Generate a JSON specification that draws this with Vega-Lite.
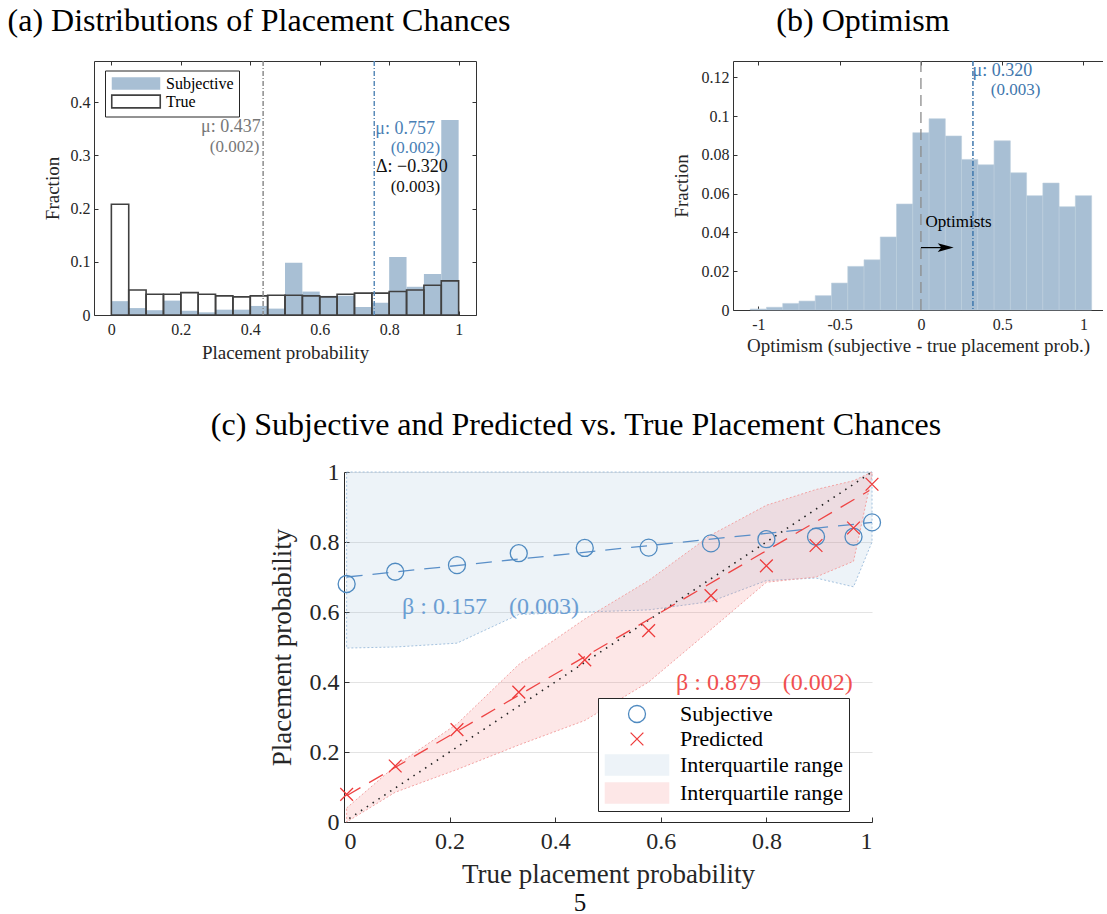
{
"$schema": "https://vega.github.io/schema/vega-lite/v6.json",
"padding": {"left": 7, "top": 5, "right": 0, "bottom": 0},
"background": "white",
"config": {
  "font": "Liberation Serif",
  "view": {"stroke": null},
  "axis": {"grid": false, "domainColor": "#333333", "tickColor": "#333333", "labelColor": "#262626", "titleColor": "#262626", "titleFontWeight": "normal", "labelFont": "Liberation Serif", "titleFont": "Liberation Serif", "tickSize": -4, "labelFontSize": 16, "titleFontSize": 19, "domainWidth": 1, "tickWidth": 1},
  "title": {"font": "Liberation Serif", "fontSize": 32, "fontWeight": "normal", "color": "black", "anchor": "middle", "frame": "group", "baseline": "alphabetic"},
  "legend": {"labelFont": "Liberation Serif", "labelLimit": 400}
},
"resolve": {"scale": {"color": "independent", "fill": "independent", "stroke": "independent", "shape": "independent"}, "legend": {"color": "independent", "fill": "independent", "stroke": "independent", "shape": "independent"}},
"datasets": {
  "one": [{}],
  "hist": [
    {"lo": 0.00, "hi": 0.05, "dist": "Subjective", "frac": 0.026},
    {"lo": 0.05, "hi": 0.10, "dist": "Subjective", "frac": 0.013},
    {"lo": 0.10, "hi": 0.15, "dist": "Subjective", "frac": 0.009},
    {"lo": 0.15, "hi": 0.20, "dist": "Subjective", "frac": 0.027},
    {"lo": 0.20, "hi": 0.25, "dist": "Subjective", "frac": 0.008},
    {"lo": 0.25, "hi": 0.30, "dist": "Subjective", "frac": 0.005},
    {"lo": 0.30, "hi": 0.35, "dist": "Subjective", "frac": 0.010},
    {"lo": 0.35, "hi": 0.40, "dist": "Subjective", "frac": 0.010},
    {"lo": 0.40, "hi": 0.45, "dist": "Subjective", "frac": 0.017},
    {"lo": 0.45, "hi": 0.50, "dist": "Subjective", "frac": 0.012},
    {"lo": 0.50, "hi": 0.55, "dist": "Subjective", "frac": 0.098},
    {"lo": 0.55, "hi": 0.60, "dist": "Subjective", "frac": 0.044},
    {"lo": 0.60, "hi": 0.65, "dist": "Subjective", "frac": 0.036},
    {"lo": 0.65, "hi": 0.70, "dist": "Subjective", "frac": 0.036},
    {"lo": 0.70, "hi": 0.75, "dist": "Subjective", "frac": 0.015},
    {"lo": 0.75, "hi": 0.80, "dist": "Subjective", "frac": 0.023},
    {"lo": 0.80, "hi": 0.85, "dist": "Subjective", "frac": 0.109},
    {"lo": 0.85, "hi": 0.90, "dist": "Subjective", "frac": 0.053},
    {"lo": 0.90, "hi": 0.95, "dist": "Subjective", "frac": 0.077},
    {"lo": 0.95, "hi": 1.00, "dist": "Subjective", "frac": 0.366},
    {"lo": 0.00, "hi": 0.05, "dist": "True", "frac": 0.208},
    {"lo": 0.05, "hi": 0.10, "dist": "True", "frac": 0.047},
    {"lo": 0.10, "hi": 0.15, "dist": "True", "frac": 0.039},
    {"lo": 0.15, "hi": 0.20, "dist": "True", "frac": 0.039},
    {"lo": 0.20, "hi": 0.25, "dist": "True", "frac": 0.042},
    {"lo": 0.25, "hi": 0.30, "dist": "True", "frac": 0.039},
    {"lo": 0.30, "hi": 0.35, "dist": "True", "frac": 0.036},
    {"lo": 0.35, "hi": 0.40, "dist": "True", "frac": 0.034},
    {"lo": 0.40, "hi": 0.45, "dist": "True", "frac": 0.036},
    {"lo": 0.45, "hi": 0.50, "dist": "True", "frac": 0.037},
    {"lo": 0.50, "hi": 0.55, "dist": "True", "frac": 0.037},
    {"lo": 0.55, "hi": 0.60, "dist": "True", "frac": 0.036},
    {"lo": 0.60, "hi": 0.65, "dist": "True", "frac": 0.034},
    {"lo": 0.65, "hi": 0.70, "dist": "True", "frac": 0.039},
    {"lo": 0.70, "hi": 0.75, "dist": "True", "frac": 0.041},
    {"lo": 0.75, "hi": 0.80, "dist": "True", "frac": 0.041},
    {"lo": 0.80, "hi": 0.85, "dist": "True", "frac": 0.044},
    {"lo": 0.85, "hi": 0.90, "dist": "True", "frac": 0.047},
    {"lo": 0.90, "hi": 0.95, "dist": "True", "frac": 0.056},
    {"lo": 0.95, "hi": 1.00, "dist": "True", "frac": 0.064}
  ],
  "opt": [
    {"lo": -1.05, "hi": -0.95, "frac": 0.0005},
    {"lo": -0.95, "hi": -0.85, "frac": 0.0014},
    {"lo": -0.85, "hi": -0.75, "frac": 0.0034},
    {"lo": -0.75, "hi": -0.65, "frac": 0.0046},
    {"lo": -0.65, "hi": -0.55, "frac": 0.0074},
    {"lo": -0.55, "hi": -0.45, "frac": 0.0139},
    {"lo": -0.45, "hi": -0.35, "frac": 0.0225},
    {"lo": -0.35, "hi": -0.25, "frac": 0.0259},
    {"lo": -0.25, "hi": -0.15, "frac": 0.0377},
    {"lo": -0.15, "hi": -0.05, "frac": 0.0547},
    {"lo": -0.05, "hi": 0.05, "frac": 0.0915},
    {"lo": 0.05, "hi": 0.15, "frac": 0.0987},
    {"lo": 0.15, "hi": 0.25, "frac": 0.0898},
    {"lo": 0.25, "hi": 0.35, "frac": 0.0777},
    {"lo": 0.35, "hi": 0.45, "frac": 0.0749},
    {"lo": 0.45, "hi": 0.55, "frac": 0.0873},
    {"lo": 0.55, "hi": 0.65, "frac": 0.0708},
    {"lo": 0.65, "hi": 0.75, "frac": 0.059},
    {"lo": 0.75, "hi": 0.85, "frac": 0.0655},
    {"lo": 0.85, "hi": 0.95, "frac": 0.0533},
    {"lo": 0.95, "hi": 1.05, "frac": 0.059}
  ],
  "pts": [
    {"x": 0.005, "series": "Subjective", "p": 0.680},
    {"x": 0.097, "series": "Subjective", "p": 0.715},
    {"x": 0.214, "series": "Subjective", "p": 0.734},
    {"x": 0.331, "series": "Subjective", "p": 0.768},
    {"x": 0.456, "series": "Subjective", "p": 0.783},
    {"x": 0.577, "series": "Subjective", "p": 0.784},
    {"x": 0.695, "series": "Subjective", "p": 0.796},
    {"x": 0.800, "series": "Subjective", "p": 0.808},
    {"x": 0.894, "series": "Subjective", "p": 0.815},
    {"x": 0.965, "series": "Subjective", "p": 0.815},
    {"x": 1.000, "series": "Subjective", "p": 0.856},
    {"x": 0.005, "series": "Predicted", "p": 0.079},
    {"x": 0.097, "series": "Predicted", "p": 0.160},
    {"x": 0.214, "series": "Predicted", "p": 0.264},
    {"x": 0.331, "series": "Predicted", "p": 0.371},
    {"x": 0.456, "series": "Predicted", "p": 0.463},
    {"x": 0.577, "series": "Predicted", "p": 0.547},
    {"x": 0.695, "series": "Predicted", "p": 0.647},
    {"x": 0.800, "series": "Predicted", "p": 0.732},
    {"x": 0.894, "series": "Predicted", "p": 0.790},
    {"x": 0.965, "series": "Predicted", "p": 0.840},
    {"x": 1.000, "series": "Predicted", "p": 0.965}
  ],
  "band": [
    {"x": 0.005, "blo": 0.497, "bhi": 1.0, "rlo": 0.0, "rhi": 0.04},
    {"x": 0.097, "blo": 0.500, "bhi": 1.0, "rlo": 0.085, "rhi": 0.16},
    {"x": 0.214, "blo": 0.511, "bhi": 1.0, "rlo": 0.15, "rhi": 0.28},
    {"x": 0.331, "blo": 0.593, "bhi": 1.0, "rlo": 0.22, "rhi": 0.45},
    {"x": 0.456, "blo": 0.600, "bhi": 1.0, "rlo": 0.29, "rhi": 0.58},
    {"x": 0.577, "blo": 0.606, "bhi": 1.0, "rlo": 0.40, "rhi": 0.69},
    {"x": 0.695, "blo": 0.630, "bhi": 1.0, "rlo": 0.55, "rhi": 0.82},
    {"x": 0.800, "blo": 0.690, "bhi": 1.0, "rlo": 0.685, "rhi": 0.905},
    {"x": 0.894, "blo": 0.697, "bhi": 1.0, "rlo": 0.70, "rhi": 0.95},
    {"x": 0.965, "blo": 0.672, "bhi": 1.0, "rlo": 0.745, "rhi": 0.975},
    {"x": 1.000, "blo": 0.800, "bhi": 1.0, "rlo": 0.99, "rhi": 1.0}
  ]
},
"spacing": 47,
"vconcat": [
  {
    "spacing": 161,
    "resolve": {"scale": {"color": "independent", "fill": "independent", "stroke": "independent", "shape": "independent"}, "legend": {"color": "independent", "fill": "independent", "stroke": "independent", "shape": "independent"}},
    "hconcat": [
      {
        "width": 382, "height": 254,
        "title": {"text": "(a) Distributions of Placement Chances", "dx": -26, "offset": 22},
        "resolve": {"axis": {"x": "independent", "y": "independent"}},
        "layer": [
          {
            "data": {"name": "hist"},
            "mark": {"type": "rect", "strokeWidth": 1.6},
            "encoding": {
              "x": {"field": "lo", "type": "quantitative", "scale": {"domain": [-0.05, 1.05], "nice": false, "zero": false},
                    "axis": {"orient": "bottom", "values": [0, 0.2, 0.4, 0.6, 0.8, 1], "labelExpr": "toString(datum.value)", "title": "Placement probability", "labelPadding": 10, "titlePadding": 6}},
              "x2": {"field": "hi"},
              "y": {"field": "frac", "type": "quantitative", "scale": {"domain": [0, 0.477], "nice": false},
                    "axis": {"orient": "left", "values": [0, 0.1, 0.2, 0.3, 0.4], "labelExpr": "toString(datum.value)", "title": "Fraction", "labelPadding": 8, "titlePadding": 8}},
              "y2": {"datum": 0},
              "fill": {"field": "dist", "type": "nominal", "scale": {"domain": ["Subjective", "True"], "range": ["#a8bfd4", "rgba(255,255,255,0)"]},
                       "legend": {"orient": "none", "legendX": 11, "legendY": 9.5, "title": null, "strokeColor": "#262626", "fillColor": "white", "padding": 5, "labelFontSize": 16, "labelColor": "black", "symbolType": "M-4.85,-1.27H4.85V1.27H-4.85Z", "symbolSize": 100, "symbolStrokeWidth": 1.6, "symbolOffset": 18, "labelOffset": 22, "rowPadding": -2}},
              "stroke": {"field": "dist", "type": "nominal", "scale": {"domain": ["Subjective", "True"], "range": ["rgba(0,0,0,0)", "#404040"]},
                       "legend": {"orient": "none", "legendX": 11, "legendY": 9.5, "title": null, "strokeColor": "#262626", "fillColor": "white", "padding": 5, "labelFontSize": 16, "labelColor": "black", "symbolType": "M-4.85,-1.27H4.85V1.27H-4.85Z", "symbolSize": 100, "symbolStrokeWidth": 1.6, "symbolOffset": 18, "labelOffset": 22, "rowPadding": -2}}
            }
          },
          {
            "data": {"name": "one"},
            "mark": {"type": "rule", "color": "#8c8c8c", "strokeDash": [5, 2, 1, 2], "strokeWidth": 1.5},
            "encoding": {"x": {"datum": 0.437, "type": "quantitative", "axis": null}}
          },
          {
            "data": {"name": "one"},
            "mark": {"type": "rule", "color": "#5b8bb9", "strokeDash": [5, 2, 1, 2], "strokeWidth": 1.5},
            "encoding": {"x": {"datum": 0.757, "type": "quantitative", "axis": null}}
          },
          {
            "data": {"name": "one"},
            "mark": {"type": "text", "color": "#777777", "align": "right", "baseline": "middle", "fontSize": 18},
            "encoding": {"x": {"datum": 0.430, "type": "quantitative", "axis": null}, "y": {"datum": 0.353, "type": "quantitative", "axis": null}, "text": {"value": "μ: 0.437"}}
          },
          {
            "data": {"name": "one"},
            "mark": {"type": "text", "color": "#777777", "align": "right", "baseline": "middle", "fontSize": 17},
            "encoding": {"x": {"datum": 0.426, "type": "quantitative", "axis": null}, "y": {"datum": 0.316, "type": "quantitative", "axis": null}, "text": {"value": "(0.002)"}}
          },
          {
            "data": {"name": "one"},
            "mark": {"type": "text", "color": "#4a7fb5", "align": "left", "baseline": "middle", "fontSize": 18},
            "encoding": {"x": {"datum": 0.760, "type": "quantitative", "axis": null}, "y": {"datum": 0.350, "type": "quantitative", "axis": null}, "text": {"value": "μ: 0.757"}}
          },
          {
            "data": {"name": "one"},
            "mark": {"type": "text", "color": "#4a7fb5", "align": "right", "baseline": "middle", "fontSize": 17},
            "encoding": {"x": {"datum": 0.947, "type": "quantitative", "axis": null}, "y": {"datum": 0.314, "type": "quantitative", "axis": null}, "text": {"value": "(0.002)"}}
          },
          {
            "data": {"name": "one"},
            "mark": {"type": "text", "color": "#111111", "align": "left", "baseline": "middle", "fontSize": 18},
            "encoding": {"x": {"datum": 0.762, "type": "quantitative", "axis": null}, "y": {"datum": 0.278, "type": "quantitative", "axis": null}, "text": {"value": "Δ: −0.320"}}
          },
          {
            "data": {"name": "one"},
            "mark": {"type": "text", "color": "#111111", "align": "right", "baseline": "middle", "fontSize": 17},
            "encoding": {
              "x": {"datum": 0.947, "type": "quantitative", "scale": {"domain": [-0.05, 1.05], "nice": false, "zero": false}, "axis": {"orient": "top", "values": [0, 0.2, 0.4, 0.6, 0.8, 1], "labels": false, "title": null}},
              "y": {"datum": 0.241, "type": "quantitative", "scale": {"domain": [0, 0.477], "nice": false}, "axis": {"orient": "right", "values": [0, 0.1, 0.2, 0.3, 0.4], "labels": false, "title": null}},
              "text": {"value": "(0.003)"}}
          }
        ]
      },
      {
        "width": 370, "height": 249,
        "title": {"text": "(b) Optimism", "dx": -55, "offset": 22},
        "resolve": {"axis": {"x": "independent", "y": "independent"}},
        "layer": [
          {
            "data": {"name": "opt"},
            "mark": {"type": "rect", "fill": "#a8bfd4", "stroke": "#bccede", "strokeWidth": 0.6},
            "encoding": {
              "x": {"field": "lo", "type": "quantitative", "scale": {"domain": [-1.156, 1.12], "nice": false, "zero": false},
                    "axis": {"orient": "bottom", "values": [-1, -0.5, 0, 0.5, 1], "labelExpr": "toString(datum.value)", "title": "Optimism (subjective - true placement prob.)", "labelPadding": 10, "titlePadding": 4}},
              "x2": {"field": "hi"},
              "y": {"field": "frac", "type": "quantitative", "scale": {"domain": [0, 0.1285], "nice": false},
                    "axis": {"orient": "left", "values": [0, 0.02, 0.04, 0.06, 0.08, 0.1, 0.12], "labelExpr": "toString(datum.value)", "title": "Fraction", "labelPadding": 8, "titlePadding": 10}},
              "y2": {"datum": 0}
            }
          },
          {
            "data": {"name": "one"},
            "mark": {"type": "rule", "color": "#8c8c8c", "strokeDash": [11, 6], "strokeWidth": 1.3},
            "encoding": {"x": {"datum": 0, "type": "quantitative", "axis": null}}
          },
          {
            "data": {"name": "one"},
            "mark": {"type": "rule", "color": "#3f77ad", "strokeDash": [5, 2, 1, 2], "strokeWidth": 1.5},
            "encoding": {"x": {"datum": 0.32, "type": "quantitative", "axis": null}}
          },
          {
            "data": {"name": "one"},
            "mark": {"type": "text", "color": "#3f77ad", "align": "left", "baseline": "middle", "fontSize": 18},
            "encoding": {"x": {"datum": 0.318, "type": "quantitative", "axis": null}, "y": {"datum": 0.1232, "type": "quantitative", "axis": null}, "text": {"value": "μ: 0.320"}}
          },
          {
            "data": {"name": "one"},
            "mark": {"type": "text", "color": "#3f77ad", "align": "left", "baseline": "middle", "fontSize": 17},
            "encoding": {
              "x": {"datum": 0.43, "type": "quantitative", "scale": {"domain": [-1.156, 1.12], "nice": false, "zero": false}, "axis": {"orient": "top", "values": [-1, -0.5, 0, 0.5, 1], "labels": false, "title": null}},
              "y": {"datum": 0.1134, "type": "quantitative", "axis": null},
              "text": {"value": "(0.003)"}}
          },
          {
            "data": {"name": "one"},
            "mark": {"type": "text", "color": "black", "align": "left", "baseline": "middle", "fontSize": 17},
            "encoding": {"x": {"datum": 0.028, "type": "quantitative", "axis": null}, "y": {"datum": 0.0456, "type": "quantitative", "axis": null}, "text": {"value": "Optimists"}}
          },
          {
            "data": {"name": "one"},
            "mark": {"type": "rule", "color": "black", "strokeWidth": 1.2},
            "encoding": {"x": {"datum": 0, "type": "quantitative", "axis": null}, "x2": {"datum": 0.18}, "y": {"datum": 0.0322, "type": "quantitative", "axis": null}}
          },
          {
            "data": {"name": "one"},
            "mark": {"type": "point", "filled": true, "color": "black", "opacity": 1, "size": 256, "shape": "M-1,-0.55L1,0L-1,0.55L-0.55,0Z"},
            "encoding": {"x": {"datum": 0.1525, "type": "quantitative", "axis": null}, "y": {"datum": 0.0322, "type": "quantitative", "axis": null}}
          }
        ]
      }
    ]
  },
  {
    "spacing": 0,
    "resolve": {"scale": {"color": "independent", "fill": "independent", "stroke": "independent", "shape": "independent"}, "legend": {"color": "independent", "fill": "independent", "stroke": "independent", "shape": "independent"}},
    "hconcat": [
      {
        "width": 116, "height": 1,
        "data": {"name": "one"},
        "mark": {"type": "text"},
        "encoding": {"text": {"value": ""}}
      },
      {
        "width": 528, "height": 350,
        "title": {"text": "(c) Subjective and Predicted vs. True Placement Chances", "dx": -32, "offset": 18},
        "layer": [
          {
            "data": {"name": "band"},
            "mark": {"type": "area", "fill": "#87afd0", "fillOpacity": 0.15, "stroke": "#a4c2df", "strokeDash": [2, 2], "strokeWidth": 1},
            "encoding": {
              "x": {"field": "x", "type": "quantitative", "scale": {"domain": [0, 1], "nice": false, "zero": false},
                    "axis": {"values": [0, 0.2, 0.4, 0.6, 0.8, 1], "labelExpr": "toString(datum.value)", "labelFontSize": 24, "titleFontSize": 27, "tickSize": -5, "labelPadding": 12, "titlePadding": 8, "domainColor": "#262626"},
                    "title": "True placement probability"},
              "y": {"field": "bhi", "type": "quantitative", "scale": {"domain": [0, 1], "nice": false},
                    "axis": {"values": [0, 0.2, 0.4, 0.6, 0.8, 1], "labelExpr": "toString(datum.value)", "labelFontSize": 24, "titleFontSize": 27, "tickSize": -5, "labelPadding": 10, "titlePadding": 13, "grid": true, "gridColor": "#e3e3e3", "domainColor": "#262626"},
                    "title": "Placement probability"},
              "y2": {"field": "blo"}
            }
          },
          {
            "data": {"name": "band"},
            "mark": {"type": "area", "fill": "#f25f5f", "fillOpacity": 0.15, "stroke": "#f3a3a3", "strokeDash": [2, 2], "strokeWidth": 1},
            "encoding": {
              "x": {"field": "x", "type": "quantitative", "title": "True placement probability"},
              "y": {"field": "rhi", "type": "quantitative", "title": "Placement probability"},
              "y2": {"field": "rlo"}
            }
          },
          {
            "data": {"name": "one"},
            "mark": {"type": "rule", "color": "#222222", "strokeDash": [1.5, 5.5], "strokeWidth": 1.6},
            "encoding": {"x": {"datum": 0.01, "type": "quantitative", "title": "True placement probability"}, "y": {"datum": 0.01, "type": "quantitative", "title": "Placement probability"}, "x2": {"datum": 1}, "y2": {"datum": 1}}
          },
          {
            "data": {"name": "one"},
            "mark": {"type": "rule", "color": "#5a8fc8", "strokeDash": [16, 10], "strokeWidth": 1.3},
            "encoding": {"x": {"datum": 0.005, "type": "quantitative", "title": "True placement probability"}, "y": {"datum": 0.70, "type": "quantitative", "title": "Placement probability"}, "x2": {"datum": 1}, "y2": {"datum": 0.856}}
          },
          {
            "data": {"name": "one"},
            "mark": {"type": "rule", "color": "#ee4444", "strokeDash": [16, 10], "strokeWidth": 1.3},
            "encoding": {"x": {"datum": 0.005, "type": "quantitative", "title": "True placement probability"}, "y": {"datum": 0.075, "type": "quantitative", "title": "Placement probability"}, "x2": {"datum": 0.995}, "y2": {"datum": 0.947}}
          },
          {
            "data": {"name": "pts"},
            "mark": {"type": "point", "filled": false, "size": 289, "strokeWidth": 1.3, "opacity": 1},
            "encoding": {
              "x": {"field": "x", "type": "quantitative", "title": "True placement probability"},
              "y": {"field": "p", "type": "quantitative", "title": "Placement probability"},
              "color": {"field": "series", "type": "nominal",
                        "scale": {"domain": ["Subjective", "Predicted", "Interquartile range", "Interquartile range "], "range": ["#4f8ac0", "#ee3b3b", "#edf3f8", "#fde7e7"]},
                        "legend": {"orient": "none", "legendX": 254, "legendY": 226, "title": null, "strokeColor": "#262626", "fillColor": "white", "padding": 5, "labelFontSize": 22, "labelColor": "black", "symbolSize": 289, "symbolStrokeWidth": 1.3, "symbolOffset": 23, "labelOffset": 32, "rowPadding": 2, "labelExpr": "trim(datum.label)"}},
              "shape": {"field": "series", "type": "nominal",
                        "scale": {"domain": ["Subjective", "Predicted", "Interquartile range", "Interquartile range "],
                                  "range": ["circle", "M-0.75,-0.75L0.75,0.75M-0.75,0.75L0.75,-0.75",
                                            "M-3.8,-1.2H3.8M-3.8,-1.1H3.8M-3.8,-1H3.8M-3.8,-0.9H3.8M-3.8,-0.8H3.8M-3.8,-0.7H3.8M-3.8,-0.6H3.8M-3.8,-0.5H3.8M-3.8,-0.4H3.8M-3.8,-0.3H3.8M-3.8,-0.2H3.8M-3.8,-0.1H3.8M-3.8,0H3.8M-3.8,0.1H3.8M-3.8,0.2H3.8M-3.8,0.3H3.8M-3.8,0.4H3.8M-3.8,0.5H3.8M-3.8,0.6H3.8M-3.8,0.7H3.8M-3.8,0.8H3.8M-3.8,0.9H3.8M-3.8,1H3.8M-3.8,1.1H3.8M-3.8,1.2H3.8",
                                            "M-3.8,-1.2H3.8M-3.8,-1.1H3.8M-3.8,-1H3.8M-3.8,-0.9H3.8M-3.8,-0.8H3.8M-3.8,-0.7H3.8M-3.8,-0.6H3.8M-3.8,-0.5H3.8M-3.8,-0.4H3.8M-3.8,-0.3H3.8M-3.8,-0.2H3.8M-3.8,-0.1H3.8M-3.8,0H3.8M-3.8,0.1H3.8M-3.8,0.2H3.8M-3.8,0.3H3.8M-3.8,0.4H3.8M-3.8,0.5H3.8M-3.8,0.6H3.8M-3.8,0.7H3.8M-3.8,0.8H3.8M-3.8,0.9H3.8M-3.8,1H3.8M-3.8,1.1H3.8M-3.8,1.2H3.8"]},
                        "legend": null}
            }
          },
          {
            "data": {"name": "one"},
            "mark": {"type": "text", "color": "#6b9ed3", "align": "left", "baseline": "middle", "fontSize": 24},
            "encoding": {"x": {"datum": 0.11, "type": "quantitative", "title": "True placement probability"}, "y": {"datum": 0.614, "type": "quantitative", "title": "Placement probability"}, "text": {"value": "β : 0.157"}}
          },
          {
            "data": {"name": "one"},
            "mark": {"type": "text", "color": "#6b9ed3", "align": "left", "baseline": "middle", "fontSize": 24},
            "encoding": {"x": {"datum": 0.3125, "type": "quantitative", "title": "True placement probability"}, "y": {"datum": 0.614, "type": "quantitative", "title": "Placement probability"}, "text": {"value": "(0.003)"}}
          },
          {
            "data": {"name": "one"},
            "mark": {"type": "text", "color": "#f05050", "align": "left", "baseline": "middle", "fontSize": 24},
            "encoding": {"x": {"datum": 0.629, "type": "quantitative", "title": "True placement probability"}, "y": {"datum": 0.397, "type": "quantitative", "title": "Placement probability"}, "text": {"value": "β : 0.879"}}
          },
          {
            "data": {"name": "one"},
            "mark": {"type": "text", "color": "#f05050", "align": "left", "baseline": "middle", "fontSize": 24},
            "encoding": {"x": {"datum": 0.831, "type": "quantitative", "title": "True placement probability"}, "y": {"datum": 0.397, "type": "quantitative", "title": "Placement probability"}, "text": {"value": "(0.002)"}}
          },
          {
            "data": {"name": "one"},
            "mark": {"type": "text", "color": "#111111", "align": "center", "baseline": "middle", "fontSize": 25},
            "encoding": {"x": {"datum": 0.447, "type": "quantitative", "title": "True placement probability"}, "y": {"datum": -0.2314, "type": "quantitative", "title": "Placement probability"}, "text": {"value": "5"}}
          }
        ]
      }
    ]
  }
]
}
